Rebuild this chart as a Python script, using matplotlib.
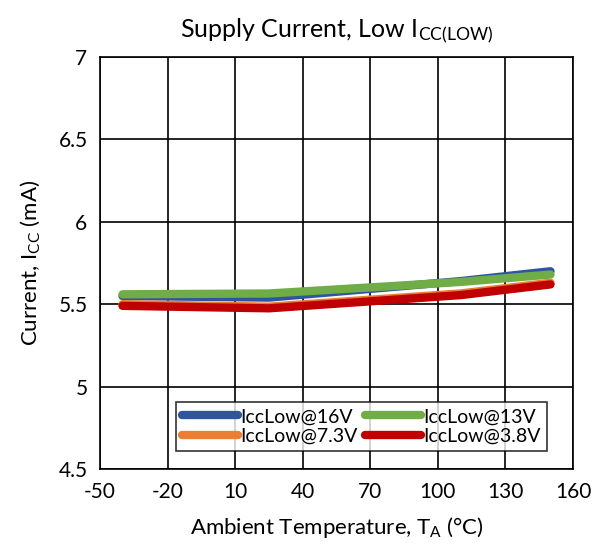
import matplotlib.pyplot as plt

plt.rcParams['font.family'] = ['Lato', 'DejaVu Sans']
plt.rcParams['mathtext.default'] = 'regular'
plt.rcParams['axes.unicode_minus'] = False

# temperatures (deg C) and supply current (mA)
temp = [-40, 25, 110, 150]
icc_16v = [5.55, 5.54, 5.64, 5.70]
icc_13v = [5.56, 5.565, 5.635, 5.68]
icc_7v3 = [5.50, 5.485, 5.565, 5.63]
icc_3v8 = [5.49, 5.475, 5.555, 5.62]

fig = plt.figure(figsize=(6.02, 5.54), dpi=100)
ax = fig.add_axes([100/602, 1 - 469/554, 473/602, 412/554])

l1, = ax.plot(temp, icc_16v, color='#2f55a0', lw=6, solid_capstyle='round', zorder=3)
l3, = ax.plot(temp, icc_7v3, color='#ed7d31', lw=6, solid_capstyle='round', zorder=3)
l2, = ax.plot(temp, icc_13v, color='#70ad47', lw=6, solid_capstyle='round', zorder=4)
l4, = ax.plot(temp, icc_3v8, color='#c00000', lw=6, solid_capstyle='round', zorder=4)

ax.set_xlim(-50, 160)
ax.set_ylim(4.5, 7)
ax.set_xticks(range(-50, 161, 30))
ax.set_yticks([4.5, 5, 5.5, 6, 6.5, 7])
ax.set_yticklabels(['4.5', '5', '5.5', '6', '6.5', '7'])
ax.grid(True, color='black', lw=1.2)
ax.tick_params(length=0, labelsize=15, pad=9)
for s in ax.spines.values():
    s.set_linewidth(1.2)

ax.set_title('Supply Current, Low I$_{CC(LOW)}$', fontsize=18, pad=14)
ax.set_xlabel('Ambient Temperature, T$_A$ (°C)', fontsize=16, labelpad=10)
ax.set_ylabel('Current, I$_{CC}$ (mA)', fontsize=16, labelpad=12)

leg = ax.legend([l1, l3, l2, l4],
                ['IccLow@16V', 'IccLow@7.3V', 'IccLow@13V', 'IccLow@3.8V'],
                ncol=2, loc='lower right', bbox_to_anchor=(0.965, 0.02),
                fontsize=14, frameon=True, fancybox=False, edgecolor='black',
                handlelength=2.9, handletextpad=0.1, columnspacing=0.4,
                borderpad=0.3, labelspacing=0.15)
leg.get_frame().set_linewidth(1.2)

fig.savefig('out.png', dpi=100)
